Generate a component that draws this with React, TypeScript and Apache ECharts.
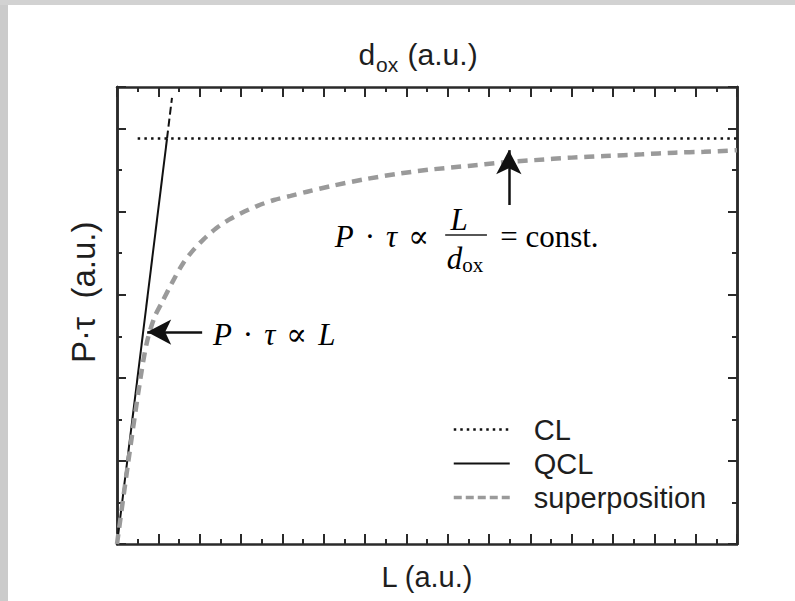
import { useEffect, useRef } from "react";
import * as echarts from "echarts";

// ---- data (arbitrary units) ----
const X_RANGE = [0, 15];
const Y_RANGE = [0, 5.5];

const clX = [0.5, 15];
const clY = [4.88, 4.88];

const qclX = [0, 1.21];
const qclY = [0, 4.88];
const qclExtX = [1.21, 1.33];
const qclExtY = [4.88, 5.37];

const superX = [0, 0.27, 0.56, 0.72, 0.9, 1.1, 1.35, 1.6, 1.85, 2.1, 2.4, 2.7, 3.0, 3.4, 3.8, 4.2, 4.6, 5.2, 6.0, 6.85, 7.65, 8.5, 9.3, 10.1, 11.0, 11.8, 12.7, 13.5, 14.2, 15];
const superY = [0, 0.98, 1.97, 2.42, 2.72, 2.92, 3.16, 3.38, 3.54, 3.67, 3.8, 3.9, 3.98, 4.07, 4.14, 4.19, 4.24, 4.31, 4.39, 4.46, 4.51, 4.55, 4.59, 4.62, 4.65, 4.67, 4.69, 4.71, 4.72, 4.74];

const legendNames = ["CL", "QCL", "superposition"];

// arrows: [fromX, fromY, toX, toY]
const arrow1 = [2.06, 2.55, 0.73, 2.55];
const arrow2 = [9.48, 4.08, 9.48, 4.74];

const zip = (xs: number[], ys: number[]) => xs.map((x, i) => [x, ys[i]]);

const SANS = "Liberation Sans, Arial, Helvetica, sans-serif";
const SERIF = "Liberation Serif, DejaVu Serif, Times New Roman, serif";
const AXIS_COLOR = "#2a2a2a";
const TEXT_COLOR = "#1e1e1e";

export default function App() {
  const ref = useRef<HTMLDivElement>(null);

  useEffect(() => {
    if (!ref.current) return;
    const chart = echarts.init(ref.current, undefined, { renderer: "svg" });

    const tickLine = { color: AXIS_COLOR, width: 2 };
    const baseX = {
      type: "value",
      min: X_RANGE[0],
      max: X_RANGE[1],
      interval: 1,
      axisLine: { show: true, onZero: false, lineStyle: { color: AXIS_COLOR, width: 2.5 } },
      axisTick: { show: true, inside: true, length: 10, lineStyle: tickLine },
      minorTick: { show: true, splitNumber: 2, length: 5, lineStyle: tickLine },
      axisLabel: { show: false },
      splitLine: { show: false },
      minorSplitLine: { show: false },
    };
    const baseY = (interval: number, len: number, pos: string) => ({
      type: "value",
      min: Y_RANGE[0],
      max: Y_RANGE[1],
      interval,
      position: pos,
      axisLine: { show: true, onZero: false, lineStyle: { color: AXIS_COLOR, width: 2.5 } },
      axisTick: { show: true, inside: true, length: len, lineStyle: tickLine },
      axisLabel: { show: false },
      splitLine: { show: false },
    });

    const hiddenSymbol = { color: "rgba(0,0,0,0)", opacity: 0, borderWidth: 0 };

    const option: any = {
      animation: false,
      backgroundColor: "#ffffff",
      grid: { left: 117, right: 58, top: 87, bottom: 57, containLabel: false },
      xAxis: [
        {
          ...baseX,
          position: "bottom",
          name: "L (a.u.)",
          nameLocation: "middle",
          nameGap: 18,
          nameTextStyle: { fontSize: 29, color: TEXT_COLOR, fontFamily: SANS, verticalAlign: "top" },
        },
        {
          ...baseX,
          position: "top",
          name: "{a|d}{s|ox}{a| (a.u.)}",
          nameLocation: "middle",
          nameGap: 18,
          nameTextStyle: {
            color: TEXT_COLOR,
            fontFamily: SANS,
            verticalAlign: "bottom",
            padding: [0, 18, 0, 0],
            rich: {
              a: { fontSize: 30, fontFamily: SANS, color: TEXT_COLOR, lineHeight: 34, verticalAlign: "bottom" },
              s: { fontSize: 21, fontFamily: SANS, color: TEXT_COLOR, lineHeight: 24, verticalAlign: "bottom", padding: [0, 1, -6, 1] },
            },
          },
        },
      ],
      yAxis: [
        baseY(1, 9, "left"),
        baseY(0.5, 5, "left"),
        baseY(1, 9, "right"),
        baseY(0.5, 5, "right"),
      ],
      legend: {
        data: [
          { name: legendNames[0], lineStyle: { color: "#111", width: 2.5, type: [2.5, 4] }, itemStyle: hiddenSymbol },
          { name: legendNames[1], lineStyle: { color: "#111", width: 2 }, itemStyle: hiddenSymbol },
          { name: legendNames[2], lineStyle: { color: "#9a9a9a", width: 3.5, type: [8, 4] }, itemStyle: hiddenSymbol },
        ],
        orient: "vertical",
        left: 452,
        top: 415,
        padding: 0,
        itemWidth: 56,
        itemHeight: 14,
        itemGap: 5,
        selectedMode: false,
        itemStyle: hiddenSymbol,
        textStyle: { fontSize: 29, color: TEXT_COLOR, fontFamily: SANS, padding: [0, 0, 0, 19] },
      },
      series: [
        {
          name: "CL",
          type: "line",
          symbol: "none",
          data: zip(clX, clY),
          itemStyle: { color: "#111" },
          lineStyle: { color: "#111", width: 2.5, type: [2.5, 4.2] },
          z: 2,
        },
        {
          name: "QCL",
          type: "line",
          symbol: "none",
          data: zip(qclX, qclY),
          itemStyle: { color: "#111" },
          lineStyle: { color: "#111", width: 2 },
          z: 2,
        },
        {
          name: "QCL (extrapolated)",
          type: "line",
          symbol: "none",
          data: zip(qclExtX, qclExtY),
          itemStyle: { color: "#111" },
          lineStyle: { color: "#111", width: 2, type: [8, 4] },
          z: 2,
        },
        {
          name: "superposition",
          type: "line",
          symbol: "none",
          smooth: 0.3,
          data: zip(superX, superY),
          itemStyle: { color: "#9a9a9a" },
          lineStyle: { color: "#9a9a9a", width: 4.5, type: [10, 6.7] },
          z: 3,
        },
        {
          name: "arrows",
          type: "line",
          symbol: "none",
          data: [],
          z: 5,
          markLine: {
            silent: true,
            symbol: ["none", "arrow"],
            symbolSize: [19, 24],
            label: { show: false },
            lineStyle: { color: "#111", width: 2.5, type: "solid" },
            itemStyle: { color: "#111" },
            emphasis: { disabled: true },
            data: [
              [{ coord: [arrow1[0], arrow1[1]] }, { coord: [arrow1[2], arrow1[3]] }],
              [{ coord: [arrow2[0], arrow2[1]] }, { coord: [arrow2[2], arrow2[3]] }],
            ],
          },
        },
      ],
    };

    chart.setOption(option);

    // annotation texts anchored in data coordinates
    const px = (x: number, y: number) => chart.convertToPixel({ xAxisIndex: 0, yAxisIndex: 0 }, [x, y]) as number[];
    const FS = 31;
    const mathRich = {
      i: { fontFamily: SERIF, fontStyle: "italic", fontSize: FS, color: TEXT_COLOR },
      op: { fontFamily: SERIF, fontSize: FS, color: TEXT_COLOR, padding: [0, 11, 0, 11] },
      r: { fontFamily: SERIF, fontSize: FS, color: TEXT_COLOR },
      ss: { fontFamily: SERIF, fontSize: 21, color: TEXT_COLOR, padding: [12, 0, 0, 0] },
    };
    const t1 = px(2.32, 2.52);
    const t2 = px(5.27, 3.7);
    const tL = px(8.28, 3.9);
    const bar0 = px(7.94, 3.72);
    const bar1 = px(8.95, 3.72);
    const tD = px(8.42, 3.43);
    const t3 = px(9.27, 3.7);
    const yName = px(-0.8, 3.03);

    chart.setOption({
      graphic: [
        { type: "rect", id: "bgL", left: 0, top: 0, shape: { width: 8, height: 601 }, style: { fill: "#cbcbcb" }, z: -10, silent: true },
        { type: "rect", id: "bgT", left: 0, top: 0, shape: { width: 795, height: 5 }, style: { fill: "#d2d2d2" }, z: -10, silent: true },
        {
          type: "text", id: "yName", x: yName[0], y: yName[1], rotation: Math.PI / 2,
          style: { text: "P·τ  (a.u.)", fontSize: 33, fontFamily: SANS, fill: TEXT_COLOR, align: "center", verticalAlign: "middle" },
        },
        {
          type: "text", id: "t1", x: t1[0], y: t1[1],
          style: { text: "{i|P}{op|·}{i|τ}{op|∝}{i|L}", rich: mathRich, verticalAlign: "middle", align: "left" },
        },
        {
          type: "text", id: "t2", x: t2[0], y: t2[1],
          style: { text: "{i|P}{op|·}{i|τ}{op|∝}", rich: mathRich, verticalAlign: "middle", align: "left" },
        },
        {
          type: "text", id: "tL", x: tL[0], y: tL[1],
          style: { text: "{i|L}", rich: mathRich, verticalAlign: "middle", align: "center" },
        },
        {
          type: "line", id: "bar", shape: { x1: bar0[0], y1: bar0[1], x2: bar1[0], y2: bar1[1] },
          style: { stroke: TEXT_COLOR, lineWidth: 1.5 },
        },
        {
          type: "text", id: "tD", x: tD[0], y: tD[1],
          style: { text: "{i|d}{ss|ox}", rich: mathRich, verticalAlign: "middle", align: "center" },
        },
        {
          type: "text", id: "t3", x: t3[0], y: t3[1],
          style: { text: "{r|= const.}", rich: mathRich, verticalAlign: "middle", align: "left" },
        },
      ],
    });

    return () => chart.dispose();
  }, []);

  return (
    <div
      ref={ref}
      style={{ position: "absolute", left: 0, top: 0, width: 795, height: 601, background: "#fff" }}
    />
  );
}
